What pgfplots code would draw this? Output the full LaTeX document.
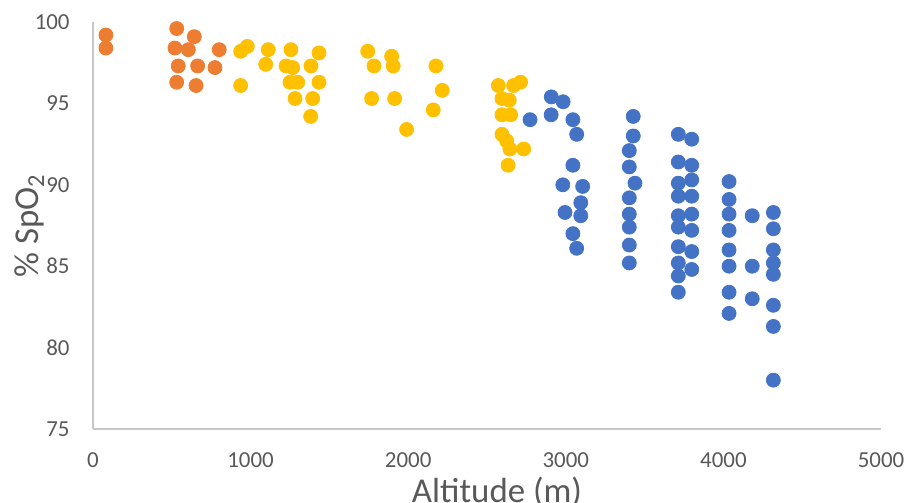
\documentclass[border=0pt]{standalone}
\usepackage{fontspec}
\setmainfont{Carlito}
\usepackage{pgfplots}
\pgfplotsset{compat=1.18}
\definecolor{cOr}{HTML}{ED7D31}
\definecolor{cYe}{HTML}{FFC000}
\definecolor{cBl}{HTML}{4472C4}
\definecolor{axgray}{HTML}{C8C8C8}
\definecolor{txgray}{HTML}{595959}
\begin{document}
\begin{tikzpicture}
\clip (-46.5bp,-37bp) rectangle (407.5bp,214.5bp);
\begin{axis}[
  scale only axis, width=394bp, height=203.5bp,
  xmin=0, xmax=5000, ymin=75, ymax=100,
  xtick={0,1000,...,5000}, ytick={75,80,...,100},
  axis x line*=bottom, axis y line*=left,
  axis line style={axgray, line width=0.8bp, -},
  major tick length=0,
  /pgf/number format/assume math mode=true,
  /pgf/number format/1000 sep={},
  tick label style={font=\fontsize{11.5}{13}\selectfont, text=txgray, inner sep=0pt},
  xticklabel style={anchor=north, yshift=-11.4bp},
  yticklabel style={anchor=east, xshift=-11.5bp},
  xlabel={Altitude (m)},
  ylabel={\% SpO\textsubscript{2}},
  label style={font=\fontsize{17.5}{20}\selectfont, text=txgray, inner sep=0pt},
  xlabel style={at={(axis description cs:0.5,0)}, anchor=north, yshift=-23.8bp, xshift=5bp},
  ylabel style={at={(axis description cs:0,0.5)}, anchor=south, yshift=24bp},
  clip=false,
]
\addplot[only marks, mark=*, mark size=3.5bp, mark options={draw=cOr, fill=cOr}] coordinates {
(82,99.2) (82,98.4) (531,99.6) (643,99.1) (520,98.4) (605,98.3) (801,98.3)
(541,97.3) (664,97.3) (774,97.2) (531,96.3) (654,96.1)
};
\addplot[only marks, mark=*, mark size=3.5bp, mark options={draw=cYe, fill=cYe}] coordinates {
(937,98.2) (979,98.5) (937,96.1) (1112,98.3) (1096,97.4) (1256,98.3) (1225,97.3)
(1267,97.2) (1250,96.3) (1299,96.3) (1282,95.3) (1434,98.1) (1383,97.3) (1434,96.3)
(1394,95.3) (1381,94.2) (1743,98.2) (1783,97.3) (1895,97.9) (1905,97.3) (1768,95.3)
(1914,95.3) (1990,93.4) (2176,97.3) (2216,95.8) (2159,94.6)
(2572,96.1) (2669,96.1) (2713,96.3) (2595,95.3) (2641,95.2) (2595,94.3) (2650,94.3)
(2595,93.1) (2625,92.7) (2645,92.2) (2733,92.2) (2634,91.2)
};
\addplot[only marks, mark=*, mark size=3.5bp, mark options={draw=cBl, fill=cBl}] coordinates {
(2773,94.0) (2908,95.4) (2983,95.1) (2907,94.3) (3045,94.0) (3069,93.1) (3045,91.2)
(2981,90.0) (3107,89.9) (3095,88.9) (2995,88.3) (3095,88.1) (3045,87.0) (3069,86.1)
(3428,94.2) (3428,93.0) (3403,92.1) (3403,91.1) (3439,90.1) (3403,89.2) (3403,88.2)
(3403,87.4) (3403,86.3) (3403,85.2)
(3714,93.1) (3714,91.4) (3714,90.1) (3714,89.3) (3714,88.1) (3714,87.4) (3714,86.2)
(3714,85.2) (3714,84.4) (3714,83.4)
(3799,92.8) (3799,91.2) (3799,90.3) (3799,89.3) (3799,88.2) (3799,87.2) (3799,85.9) (3799,84.8)
(4036,90.2) (4036,89.1) (4036,88.2) (4036,87.2) (4036,86.0) (4036,85.0) (4036,83.4) (4036,82.1)
(4183,88.1) (4183,85.0) (4183,83.0)
(4317,88.3) (4317,87.3) (4317,86.0) (4317,85.2) (4317,84.5) (4317,82.6) (4317,81.3) (4317,78.0)
};
\end{axis}
\end{tikzpicture}
\end{document}
